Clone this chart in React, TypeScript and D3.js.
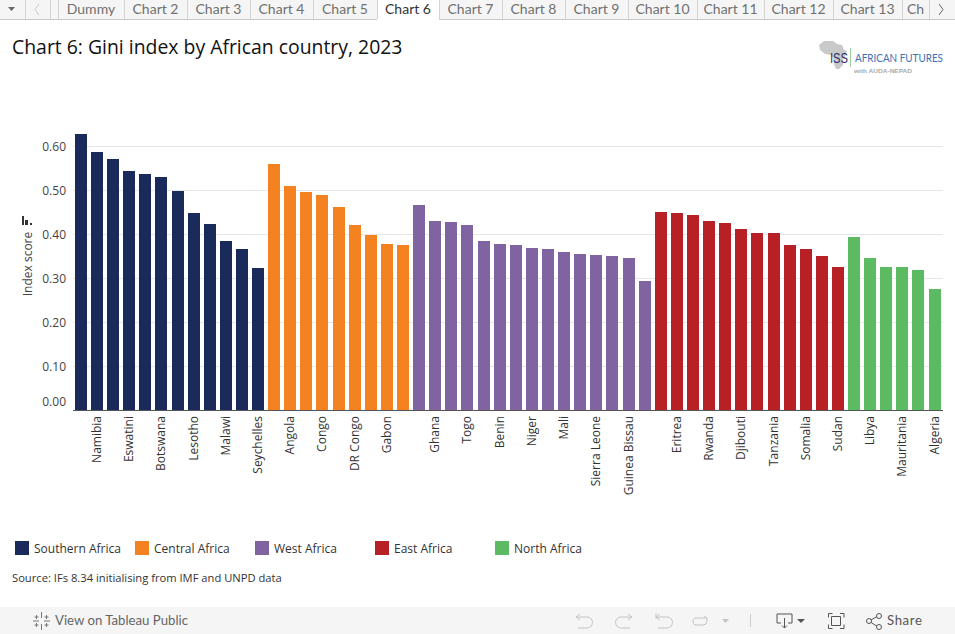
import React, { useEffect, useRef } from 'react';
import * as d3 from 'd3';

const WIDTH = 955;
const HEIGHT = 634;
const MARGIN = { top: 146, right: 12, bottom: 224, left: 73 };
const FONT = '"Open Sans", sans-serif';
const UI_FONT = 'Lato, sans-serif';

// bars in picture order, only every other name is printed on the axis
const giniValues = [
  0.628, 0.587, 0.571, 0.544, 0.537, 0.53, 0.498, 0.448, 0.423, 0.383, 0.367, 0.323,
  0.56, 0.51, 0.496, 0.489, 0.462, 0.421, 0.398, 0.378, 0.376,
  0.467, 0.43, 0.428, 0.421, 0.385, 0.378, 0.376, 0.369, 0.367, 0.36, 0.355, 0.353, 0.351, 0.346, 0.294,
  0.451, 0.448, 0.444, 0.43, 0.426, 0.412, 0.403, 0.403, 0.376, 0.367, 0.349, 0.326,
  0.394, 0.346, 0.326, 0.326, 0.319, 0.276,
];
const countryLabels = [
  '', 'Namibia', '', 'Eswatini', '', 'Botswana', '', 'Lesotho', '', 'Malawi', '', 'Seychelles',
  '', 'Angola', '', 'Congo', '', 'DR Congo', '', 'Gabon', '',
  '', 'Ghana', '', 'Togo', '', 'Benin', '', 'Niger', '', 'Mali', '', 'Sierra Leone', '', 'Guinea Bissau', '',
  '', 'Eritrea', '', 'Rwanda', '', 'Djibouti', '', 'Tanzania', '', 'Somalia', '', 'Sudan',
  '', 'Libya', '', 'Mauritania', '', 'Algeria',
];
const regions = ['Southern Africa', 'Central Africa', 'West Africa', 'East Africa', 'North Africa'];
const regionCounts = [12, 9, 15, 12, 6];
const regionColors = ['#1a2a5a', '#f58220', '#8064a2', '#b72025', '#5cbb62'];
const yTicks = [0, 0.1, 0.2, 0.3, 0.4, 0.5, 0.6];

const tabNames = ['Dummy', 'Chart 2', 'Chart 3', 'Chart 4', 'Chart 5', 'Chart 6', 'Chart 7', 'Chart 8', 'Chart 9', 'Chart 10', 'Chart 11', 'Chart 12', 'Chart 13', 'Ch'];
const tabEdges = [58, 124, 187, 250, 313, 377, 439, 502, 565, 628, 697, 764, 833, 902, 929];

const App: React.FC = () => {
  const svgRef = useRef<SVGSVGElement>(null);

  useEffect(() => {
    if (!svgRef.current) return;
    const svg = d3.select(svgRef.current);
    svg.selectAll('*').remove();

    svg.append('rect').attr('width', WIDTH).attr('height', HEIGHT).attr('fill', '#fff');

    // Tab strip
    const tabs = svg.append('g');
    tabs.append('rect').attr('width', WIDTH).attr('height', 19).attr('fill', '#f5f5f5');
    tabs.append('line').attr('x1', 0).attr('x2', WIDTH).attr('y1', 19.5).attr('y2', 19.5).attr('stroke', '#c8c8c8');
    tabs.append('rect').attr('x', tabEdges[5]).attr('width', tabEdges[6] - tabEdges[5]).attr('height', 20).attr('fill', '#fff');
    [25, 50, ...tabEdges].forEach(x => {
      tabs.append('line').attr('x1', x + 0.5).attr('x2', x + 0.5).attr('y1', 0).attr('y2', 19).attr('stroke', '#d4d4d4');
    });
    tabNames.forEach((name, i) => {
      tabs.append('text')
        .attr('x', (tabEdges[i] + tabEdges[i + 1]) / 2)
        .attr('y', 14)
        .attr('text-anchor', 'middle')
        .attr('font-family', UI_FONT)
        .attr('font-size', 14)
        .attr('fill', i === 5 ? '#333' : '#707070')
        .text(name);
    });
    tabs.append('path').attr('d', 'M8 7h7l-3.5 4z').attr('fill', '#666');
    tabs.append('path').attr('d', 'M39 4l-4 5.5 4 5.5').attr('fill', 'none').attr('stroke', '#ccc');
    tabs.append('path').attr('d', 'M939 4l4 5.5-4 5.5').attr('fill', 'none').attr('stroke', '#666');

    // Title
    svg.append('text')
      .attr('x', 12).attr('y', 54)
      .attr('font-family', FONT).attr('font-size', 19.4).attr('fill', '#111')
      .text('Chart 6: Gini index by African country, 2023');

    // Logo
    const logo = svg.append('g');
    logo.append('path')
      .attr('d', 'M824 41L833 41 837 44 842 45 844 50 847 51 845 56 843 60 843 65 839 69 836 69 834 64 833 58 831 55 825 54 820 50 819 45z')
      .attr('fill', '#c9c9c9');
    logo.append('text').attr('x', 830).attr('y', 63).attr('font-family', '"Liberation Sans", sans-serif').attr('font-size', 14).attr('textLength', 18).attr('lengthAdjust', 'spacingAndGlyphs').attr('fill', '#2b2f6b').text('ISS');
    logo.append('line').attr('x1', 850.5).attr('x2', 850.5).attr('y1', 48).attr('y2', 67).attr('stroke', '#9ccf9a');
    logo.append('text').attr('x', 855).attr('y', 62).attr('font-family', UI_FONT).attr('font-size', 11).attr('textLength', 88).attr('lengthAdjust', 'spacingAndGlyphs').attr('fill', '#3d6fb5').text('AFRICAN FUTURES');
    logo.append('text').attr('x', 854).attr('y', 73).attr('font-family', '"Liberation Sans", sans-serif').attr('font-size', 6).attr('font-weight', 'bold').attr('textLength', 58).attr('lengthAdjust', 'spacingAndGlyphs').attr('fill', '#aaa').text('with AUDA-NEPAD');

    // Scales
    const indices = d3.range(giniValues.length);
    const x = d3.scaleBand<number>()
      .domain(indices)
      .range([72.78, 942.7])
      .paddingInner(0.255)
      .paddingOuter(0.13);
    const y = d3.scaleLinear()
      .domain([0, 0.6])
      .range([HEIGHT - MARGIN.bottom, MARGIN.top]);

    const regionOf = (i: number) => {
      let total = 0;
      for (let r = 0; r < regionCounts.length; r++) {
        total += regionCounts[r];
        if (i < total) return r;
      }
      return 0;
    };

    // Gridlines
    svg.append('g')
      .selectAll('line')
      .data(yTicks.slice(1))
      .join('line')
      .attr('x1', MARGIN.left)
      .attr('x2', WIDTH - MARGIN.right)
      .attr('y1', d => Math.round(y(d)) + 0.5)
      .attr('y2', d => Math.round(y(d)) + 0.5)
      .attr('stroke', '#e6e6e6');

    // Bars
    svg.append('g')
      .selectAll('rect')
      .data(indices)
      .join('rect')
      .attr('x', i => Math.round(x(i) as number))
      .attr('y', i => Math.round(y(giniValues[i])))
      .attr('width', 12)
      .attr('height', i => y(0) - Math.round(y(giniValues[i])))
      .attr('fill', i => regionColors[regionOf(i)]);

    // Y axis
    const yAxis = d3.axisLeft(y).tickValues(yTicks).tickSize(0).tickPadding(7).tickFormat(d3.format('.2f') as any);
    const yG = svg.append('g').attr('transform', `translate(${MARGIN.left},1)`).call(yAxis);
    yG.select('.domain').remove();
    yG.selectAll('text')
      .attr('font-family', FONT)
      .attr('font-size', 12)
      .attr('fill', '#444');
    // Tableau nudges the zero label above the baseline
    yG.selectAll<SVGGElement, number>('.tick').filter(d => d === 0).select('text').attr('dy', '-0.43em');

    // X axis
    const xAxis = d3.axisBottom(x).tickSize(0).tickPadding(0).tickFormat(i => countryLabels[i as number]);
    const xG = svg.append('g').attr('transform', `translate(0,${y(0)})`).call(xAxis);
    xG.select('.domain').remove();
    xG.selectAll('text')
      .attr('transform', 'translate(4,6) rotate(-90)')
      .attr('text-anchor', 'end')
      .attr('x', 0)
      .attr('y', 0)
      .attr('dy', 0)
      .attr('font-family', FONT)
      .attr('font-size', 12)
      .attr('fill', '#333');
    svg.append('line')
      .attr('x1', MARGIN.left).attr('x2', WIDTH - MARGIN.right)
      .attr('y1', y(0) + 0.5).attr('y2', y(0) + 0.5)
      .attr('stroke', '#555');

    // Y axis title and its sort icon
    svg.append('text')
      .attr('transform', 'translate(32,264) rotate(-90)')
      .attr('text-anchor', 'middle')
      .attr('font-family', FONT)
      .attr('font-size', 12)
      .attr('fill', '#444')
      .text('Index score');
    svg.append('path').attr('d', 'M22 216h2v9h-2zM25 220h3v5h-3zM30 223h2v2h-2z').attr('fill', '#333');

    // Legend
    regions.forEach((name, i) => {
      const lx = 15 + i * 120;
      svg.append('rect').attr('x', lx).attr('y', 541).attr('width', 14).attr('height', 14).attr('fill', regionColors[i]);
      svg.append('text')
        .attr('x', lx + 19).attr('y', 553)
        .attr('font-family', FONT).attr('font-size', 12).attr('fill', '#333')
        .text(name);
    });

    // Source
    svg.append('text')
      .attr('x', 12).attr('y', 582)
      .attr('font-family', FONT).attr('font-size', 11.2).attr('fill', '#333')
      .text('Source: IFs 8.34 initialising from IMF and UNPD data');

    // Footer toolbar
    const foot = svg.append('g');
    foot.append('rect').attr('y', 607).attr('width', WIDTH).attr('height', 27).attr('fill', '#f5f5f5');
    foot.append('text').attr('x', 55).attr('y', 625).attr('font-family', UI_FONT).attr('font-size', 13.2).attr('fill', '#666').text('View on Tableau Public');
    foot.append('path')
      .attr('d', 'M41.500 612v6M41.500 624v6M33 621h6M44 621h6M36.500 615v4M34.500 617h4M46.500 615v4M44.500 617h4M36.500 623v4M34.500 625h4M46.500 623v4M44.500 625h4')
      .attr('stroke', '#777').attr('fill', 'none');
    const faint = { stroke: '#c4c4c4', fill: 'none' };
    const icons = [
      'M576 617h11a5 5 0 0 1 0 11h-9M576 617l4-3M576 617l4 3',
      'M632 617h-11a5 5 0 0 0 0 11h9M632 617l-4-3M632 617l-4 3',
      'M656 613v6M656 617h11a5 5 0 0 1 0 11h-9M656 617l4-3M656 617l4 3',
      'M707 618h-12a4 4 0 0 0 0 7h8a4 4 0 0 0 4-4v-3M707 618l-3-2',
    ];
    icons.forEach(d => foot.append('path').attr('d', d).attr('stroke', faint.stroke).attr('fill', faint.fill));
    foot.append('path').attr('d', 'M722 619h7l-3.500 4z').attr('fill', '#c4c4c4');
    foot.append('line').attr('x1', 750.5).attr('x2', 750.5).attr('y1', 614).attr('y2', 627).attr('stroke', '#ccc');
    foot.append('path').attr('d', 'M781 623h-4v-9h15v9h-4M784.500 618v10M782 625.500l2.500 2.500 2.500-2.500').attr('stroke', '#555').attr('fill', 'none');
    foot.append('path').attr('d', 'M797 619h8l-4 4z').attr('fill', '#555');
    foot.append('path').attr('d', 'M828.500 617.500v-4h4M840 613.500h4v4M844 624.500v4h-4M832.500 628.500h-4v-4M831.500 616.500h9v9h-9z').attr('stroke', '#555').attr('fill', 'none');
    foot.append('path').attr('d', 'M869 621l9-5M869 621l9 6').attr('stroke', '#555').attr('fill', 'none');
    [[869, 621], [879, 616], [879, 627]].forEach(([cx, cy]) => {
      foot.append('circle').attr('cx', cx).attr('cy', cy).attr('r', 2.5).attr('fill', '#f5f5f5').attr('stroke', '#555');
    });
    foot.append('text').attr('x', 887).attr('y', 625).attr('font-family', UI_FONT).attr('font-size', 13.2).attr('letter-spacing', 0.6).attr('fill', '#555').text('Share');
  }, []);

  return (
    <svg
      ref={svgRef}
      width={WIDTH}
      height={HEIGHT}
      style={{ position: 'fixed', top: 0, left: 0, display: 'block' }}
    />
  );
};

export default App;
